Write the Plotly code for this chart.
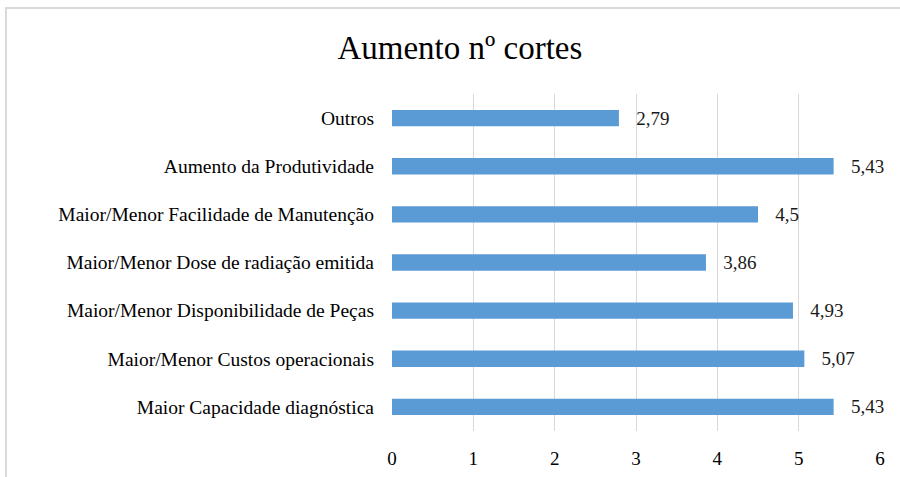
import plotly.graph_objects as go

categories = [
    "Outros",
    "Aumento da Produtividade",
    "Maior/Menor Facilidade de Manutenção",
    "Maior/Menor Dose de radiação emitida",
    "Maior/Menor Disponibilidade de Peças",
    "Maior/Menor Custos operacionais",
    "Maior Capacidade diagnóstica",
]
values = [2.79, 5.43, 4.5, 3.86, 4.93, 5.07, 5.43]
tick_vals = [0, 1, 2, 3, 4, 5, 6]

labels = ["   " + f"{v:g}".replace(".", ",") for v in values]

FONT = "Liberation Serif, Times New Roman, serif"

fig = go.Figure(go.Bar(
    y=categories, x=values, orientation="h",
    marker=dict(color="#5B9BD5", line=dict(width=0)),
    width=0.34,
    text=labels, textposition="outside", cliponaxis=False, constraintext="none",
    textfont=dict(family=FONT, size=19, color="#1a1a1a"),
))

fig.update_layout(
    width=900, height=477,
    margin=dict(l=392, r=20, t=94, b=46),
    paper_bgcolor="white", plot_bgcolor="white",
    showlegend=False,
    title=dict(text="Aumento nº cortes", x=0.511, xanchor="center", y=0.9, yanchor="middle",
               font=dict(family=FONT, size=33, color="#000000")),
    font=dict(family=FONT, size=19, color="#000000"),
    xaxis=dict(range=[0, 6], tickvals=tick_vals, showgrid=True, gridcolor="#D9D9D9",
               gridwidth=1, zeroline=False, showline=False, ticks="", automargin=False,
               ticklabelstandoff=14, tickfont=dict(family=FONT, size=19, color="#000000")),
    yaxis=dict(autorange="reversed", showgrid=False, ticks="", ticklabelstandoff=17,
               automargin=False,
               tickfont=dict(family=FONT, size=19.5, color="#000000")),
    shapes=[dict(type="rect", xref="paper", yref="paper",
                 x0=(6 - 392) / 488, x1=1.2, y0=-0.5, y1=(431 - 8) / 337,
                 line=dict(color="#D9D9D9", width=2), layer="below")],
)

fig.write_html("out.html", config={"displayModeBar": False},
               post_script="document.body.style.margin='0';")
